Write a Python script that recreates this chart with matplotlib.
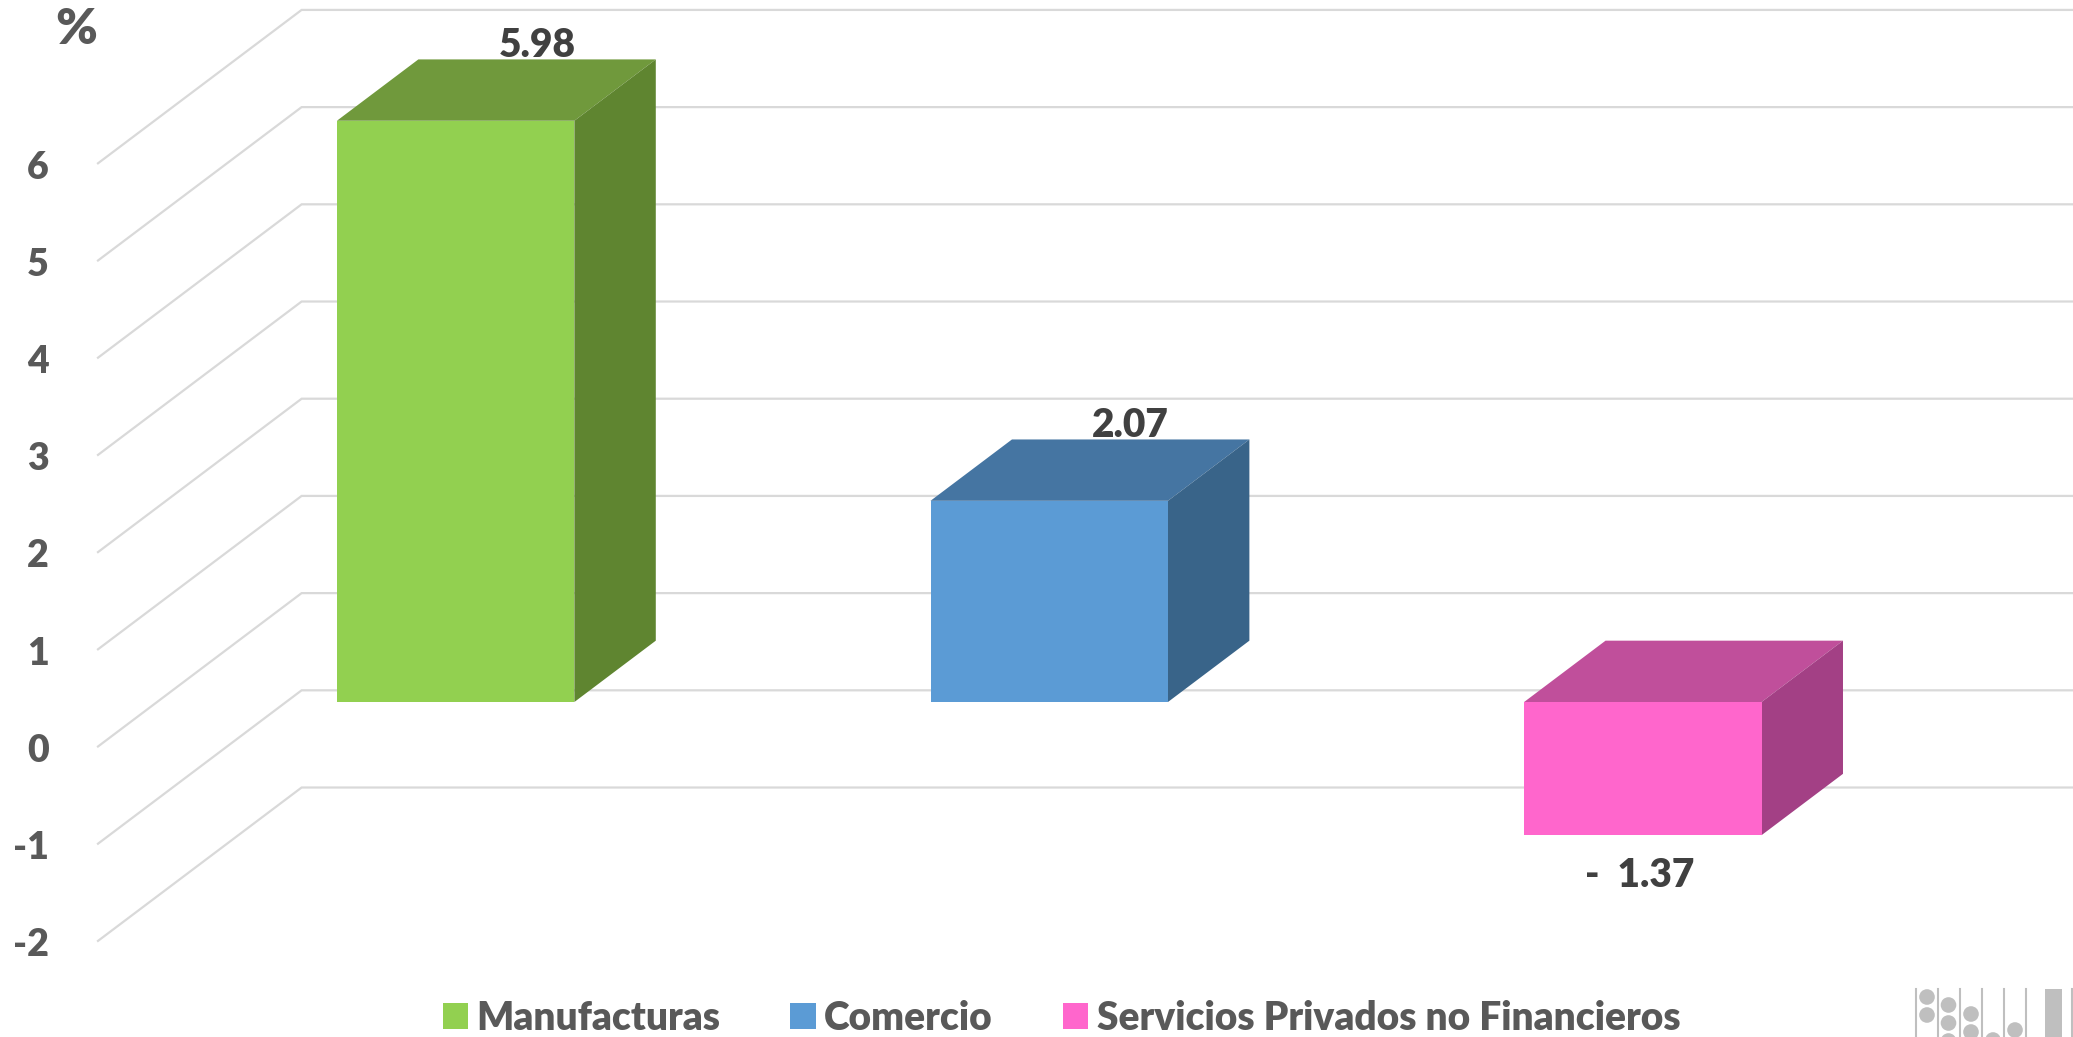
import matplotlib
matplotlib.use("Agg")
import matplotlib.pyplot as plt
from matplotlib.patches import Polygon, Circle, Rectangle

categories = ["Manufacturas", "Comercio", "Servicios Privados no Financieros"]
values = [5.98, 2.07, -1.37]
value_labels = ["5.98", "2.07", "-  1.37"]
y_ticks = [-2, -1, 0, 1, 2, 3, 4, 5, 6]

front_colors = ["#92D050", "#5B9BD5", "#FF66CC"]
top_colors = ["#70993C", "#4575A2", "#C04F9B"]
side_colors = ["#5F8530", "#396489", "#A34085"]
grid_color = "#D9D9D9"
tick_color = "#595959"
label_color = "#404040"
logo_color = "#BFBFBF"

# oblique projection, one depth unit goes this far in x and y
depth_x = 0.343
depth_y = 1.578
depth_front = 0.29
depth_back = 0.69
half_width = 0.2
bar_shift = 0.003

plt.rcParams['font.family'] = ['Lato', 'DejaVu Sans']
plt.rcParams['font.weight'] = 'heavy'

W, H = 2073, 1037
fig = plt.figure(figsize=(W / 100, H / 100), dpi=100)
ax = fig.add_axes([0, 0, 1, 1])
# x=0 at 98 px with 593.6 px per category, y=0 at 746.5 px with 97.2 px per unit
ax.set_xlim(-98 / 593.6, (W - 98) / 593.6)
ax.set_ylim((746.5 - H) / 97.2, 746.5 / 97.2)
ax.axis("off")


def proj(x, v, d):
    return (x + d * depth_x, v + d * depth_y)


for t in y_ticks:
    ax.plot(*zip(proj(0, t, 0), proj(0, t, 1), proj(3, t, 1)), color=grid_color, lw=1.6, zorder=1,
            solid_joinstyle="miter")
    ax.text(-0.083, t - 0.045, str(t), ha="right", va="center", fontsize=27, color=tick_color)

ax.text(-0.036, 7.38, "%", ha="center", va="center", fontsize=36, color=tick_color)

for i, v in enumerate(values):
    c = i + 0.5 + bar_shift
    l, r = c - half_width, c + half_width
    floor = max(v, 0)
    top = [proj(l, floor, depth_front), proj(r, floor, depth_front),
           proj(r, floor, depth_back), proj(l, floor, depth_back)]
    side = [proj(r, 0, depth_front), proj(r, v, depth_front), proj(r, v, depth_back), proj(r, 0, depth_back)]
    front = [proj(l, 0, depth_front), proj(r, 0, depth_front), proj(r, v, depth_front), proj(l, v, depth_front)]
    ax.add_patch(Polygon(top, closed=True, fc=top_colors[i], ec="none", zorder=2))
    ax.add_patch(Polygon(side, closed=True, fc=side_colors[i], ec="none", zorder=2))
    ax.add_patch(Polygon(front, closed=True, fc=front_colors[i], ec="none", zorder=3))

    if v > 0:
        lx, ly = proj(c, v, depth_back)
        ax.text(lx, ly + 0.145, value_labels[i], ha="center", va="center", fontsize=28, color=label_color)
    else:
        lx, ly = proj(c, v, depth_front)
        ax.text(lx - 0.005, ly - 0.41, value_labels[i], ha="center", va="center", fontsize=28, color=label_color)

handles = [Rectangle((0, 0), 1, 1, fc=col, ec="none") for col in front_colors]
leg = fig.legend(handles, categories, ncols=3, loc="center", bbox_to_anchor=(803 * 1.322 / W, (H - 1018) / H),
                 frameon=False, fontsize=28, labelcolor=tick_color, handlelength=0.65, handleheight=0.65,
                 handletextpad=0.22, columnspacing=1.8, borderpad=0, borderaxespad=0)

# logo in the corner, cut off by the bottom edge
logo = fig.add_axes([0, 0, 1, 1])
logo.set_xlim(0, W)
logo.set_ylim(H, 0)
logo.axis("off")
logo.patch.set_alpha(0)
logo_lines = [1916, 1937.5, 1960, 1982, 2004, 2026, 2072]
logo_dots = [(1927, 997), (1927, 1015), (1948.5, 1005), (1948.5, 1023), (1948.5, 1041),
             (1971, 1014), (1971, 1032), (1993, 1040), (2015, 1030)]
for lx in logo_lines:
    logo.plot([lx, lx], [989, H], color=logo_color, lw=1.5)
for dx, dy in logo_dots:
    logo.add_patch(Circle((dx, dy), 7.8, fc=logo_color, ec="none"))
logo.add_patch(Rectangle((2045, 989), 17, H - 989, fc=logo_color, ec="none"))

fig.savefig("out.png", dpi=100)
